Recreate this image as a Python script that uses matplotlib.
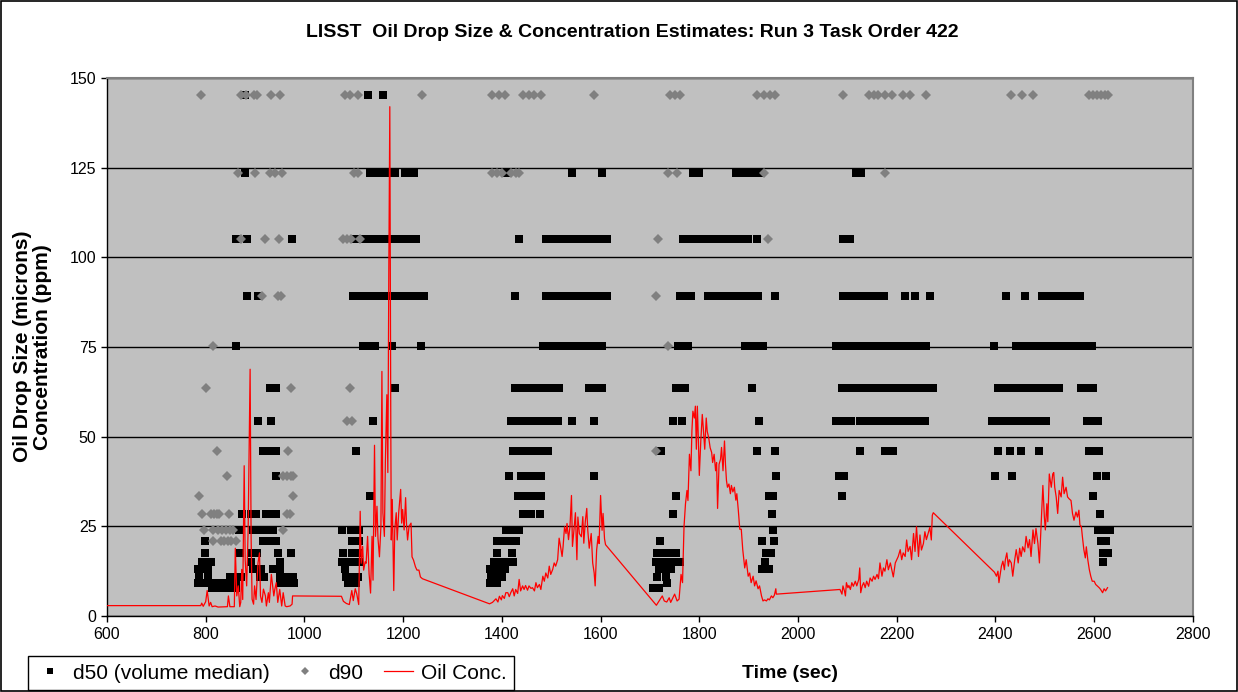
import matplotlib
matplotlib.use("Agg")
import matplotlib.pyplot as plt
from matplotlib.patches import Rectangle

plt.rcParams['font.family'] = ['Liberation Sans', 'DejaVu Sans']

# LISST size classes (microns) used for the d50 / d90 estimates
size_bins = [145.2, 123.5, 105.0, 89.1, 75.3, 63.7, 54.3, 46.1, 39.0, 33.4,
             28.5, 24.0, 20.8, 17.5, 15.1, 13.0, 10.8, 9.3, 7.9]

# d50 sample times (sec) for each size class, same order as size_bins
d50_times = [
    [880, 1128, 1159],
    [880, 1132, 1143, 1150, 1157, 1164, 1171, 1178, 1184, 1204, 1212, 1221, 1410, 1542, 1602,
     1787, 1800, 1875, 1886, 1897, 1908, 1920, 2117, 2127],
    [862, 883, 975, 1103, 1117, 1133, 1140, 1147, 1155, 1162, 1170, 1177, 1190, 1197, 1204,
     1212, 1219, 1226, 1435, 1489, 1496, 1503, 1510, 1518, 1525, 1532, 1540, 1547, 1554, 1561,
     1568, 1574, 1591, 1600, 1608, 1614, 1767, 1774, 1781, 1788, 1795, 1802, 1809, 1816, 1823,
     1830, 1837, 1844, 1851, 1858, 1865, 1872, 1879, 1888, 1899, 1917, 2091, 2100, 2105],
    [883, 906, 1099, 1106, 1113, 1120, 1127, 1134, 1141, 1147, 1153, 1160, 1167, 1174, 1180,
     1187, 1194, 1201, 1208, 1215, 1222, 1229, 1236, 1243, 1427, 1489, 1496, 1503, 1510, 1517,
     1524, 1531, 1538, 1545, 1552, 1559, 1566, 1573, 1580, 1587, 1594, 1601, 1608, 1614, 1760,
     1768, 1776, 1784, 1817, 1824, 1831, 1838, 1845, 1852, 1859, 1866, 1873, 1880, 1887, 1894,
     1901, 1908, 1915, 1919, 1953, 2091, 2098, 2105, 2112, 2119, 2126, 2133, 2140, 2147, 2154,
     2161, 2168, 2175, 2217, 2237, 2267, 2421, 2460, 2495, 2509, 2516, 2523, 2530, 2537, 2544,
     2551, 2558, 2565, 2572],
    [862, 1119, 1126, 1133, 1140, 1143, 1178, 1236, 1483, 1490, 1497, 1504, 1511, 1518, 1525,
     1532, 1539, 1546, 1553, 1560, 1567, 1574, 1581, 1588, 1595, 1602, 1757, 1767, 1777, 1892,
     1900, 1908, 1916, 1924, 1930, 2076, 2083, 2090, 2097, 2104, 2111, 2118, 2125, 2132, 2139,
     2146, 2153, 2160, 2167, 2174, 2181, 2188, 2195, 2207, 2214, 2221, 2228, 2235, 2242, 2247,
     2259, 2398, 2442, 2449, 2456, 2463, 2469, 2479, 2486, 2493, 2500, 2507, 2514, 2521, 2528,
     2535, 2542, 2549, 2556, 2563, 2570, 2577, 2584, 2591, 2596],
    [930, 936, 943, 1183, 1427, 1442, 1450, 1459, 1466, 1473, 1480, 1487, 1494, 1501, 1508,
     1516, 1577, 1587, 1602, 1753, 1762, 1772, 1907, 2089, 2096, 2103, 2110, 2117, 2124, 2131,
     2138, 2145, 2152, 2159, 2166, 2173, 2180, 2187, 2194, 2201, 2208, 2215, 2222, 2229, 2236,
     2243, 2250, 2257, 2264, 2271, 2274, 2405, 2412, 2419, 2426, 2433, 2440, 2447, 2454, 2461,
     2468, 2475, 2482, 2489, 2496, 2503, 2510, 2516, 2529, 2573, 2586, 2598],
    [905, 932, 1138, 1418, 1425, 1432, 1439, 1455, 1462, 1469, 1476, 1483, 1490, 1497, 1504,
     1513, 1542, 1587, 1746, 1765, 1921, 2077, 2084, 2091, 2098, 2105, 2108, 2125, 2132, 2139,
     2146, 2153, 2160, 2167, 2174, 2181, 2188, 2195, 2202, 2209, 2216, 2223, 2230, 2237, 2244,
     2251, 2257, 2392, 2399, 2406, 2413, 2420, 2427, 2434, 2441, 2448, 2455, 2462, 2469, 2476,
     2483, 2490, 2497, 2502, 2586, 2596, 2607],
    [916, 923, 930, 937, 943, 1104, 1422, 1429, 1436, 1443, 1450, 1456, 1472, 1479, 1486,
     1493, 1723, 1917, 1953, 2126, 2176, 2186, 2193, 2405, 2429, 2452, 2488, 2590, 2600, 2610],
    [943, 1415, 1439, 1452, 1459, 1466, 1472, 1479, 1587, 1956, 2082, 2093, 2400, 2433, 2606,
     2623],
    [1133, 1432, 1440, 1448, 1456, 1464, 1472, 1480, 1752, 1942, 1950, 2090, 2598],
    [874, 892, 902, 923, 930, 937, 943, 1442, 1460, 1478, 1747, 1947, 2611],
    [868, 896, 903, 910, 917, 923, 930, 937, 1077, 1095, 1103, 1111, 1408, 1415, 1422, 1429,
     1435, 1950, 2607, 2615, 2623, 2631],
    [799, 916, 923, 930, 943, 1097, 1104, 1111, 1391, 1401, 1408, 1415, 1422, 1428, 1721,
     1926, 1951, 2613, 2623],
    [798, 870, 894, 903, 947, 972, 1079, 1097, 1104, 1111, 1391, 1421, 1715, 1722, 1730, 1738,
     1745, 1753, 1936, 1946, 2617, 2627],
    [793, 801, 810, 892, 950, 1076, 1083, 1090, 1096, 1110, 1385, 1392, 1399, 1407, 1415, 1422,
     1713, 1720, 1727, 1734, 1741, 1748, 1755, 1760, 1934, 2617],
    [784, 791, 798, 805, 896, 913, 937, 944, 950, 1083, 1376, 1384, 1392, 1400, 1407, 1719,
     1727, 1735, 1743, 1926, 1934, 1942],
    [786, 804, 849, 857, 865, 872, 910, 919, 951, 958, 965, 972, 977, 1085, 1092, 1096, 1109,
     1379, 1386, 1394, 1401, 1715, 1733],
    [784, 791, 799, 806, 813, 820, 827, 834, 841, 848, 855, 862, 950, 957, 964, 971, 978, 1089,
     1097, 1105, 1375, 1383, 1391, 1735],
    [812, 819, 826, 833, 840, 847, 854, 861, 1706, 1713, 1719],
]

# d90 sample times (sec) for each size class
d90_times = [
    [791, 872, 882, 897, 903, 933, 950, 1082, 1092, 1109, 1239, 1381, 1395, 1407, 1442, 1455,
     1466, 1479, 1587, 1740, 1750, 1760, 1916, 1932, 1943, 1953, 2091, 2143, 2153, 2163, 2177,
     2190, 2213, 2227, 2260, 2432, 2453, 2475, 2589, 2597, 2605, 2613, 2621, 2628],
    [866, 900, 930, 940, 954, 1100, 1109, 1381, 1391, 1401, 1418, 1428, 1435, 1736, 1755, 1932,
     2176],
    [872, 920, 949, 1079, 1087, 1094, 1113, 1716, 1940],
    [914, 947, 952, 1713],
    [815, 1736],
    [800, 973, 1092],
    [1086, 1096],
    [822, 966, 1713],
    [844, 957, 965, 972, 977],
    [787, 976],
    [792, 810, 816, 822, 827, 848, 964, 971],
    [797, 815, 825, 833, 842, 850, 856, 957],
    [814, 831, 838, 845, 852, 861],
    [], [], [], [], [], [],
]

# oil concentration record (ppm)
conc_time = [
    600, 790, 792, 795, 800, 803, 807, 810, 813, 819, 825, 844, 846, 849, 858, 860, 863, 866,
    869, 871, 873, 875, 878, 880, 883, 886, 890, 892, 894, 897, 899, 902, 906, 909, 911, 914,
    917, 921, 923, 927, 929, 933, 935, 938, 940, 943, 946, 950, 954, 957, 961, 964, 971, 975,
    976, 1075,
    1079, 1085, 1091, 1096, 1099, 1103, 1106, 1110, 1113, 1115, 1118, 1120, 1123, 1125, 1128,
    1131, 1134, 1137, 1139, 1142, 1144, 1147, 1149, 1152, 1155, 1157, 1159, 1162, 1164, 1167,
    1169, 1171, 1173, 1175, 1176, 1178, 1181, 1183, 1186, 1188, 1191, 1195, 1197, 1199, 1202,
    1205, 1207, 1209, 1212, 1216, 1218, 1221, 1225, 1228, 1232, 1235, 1239,
    1375, 1381, 1388, 1392, 1395, 1399, 1401, 1405, 1408, 1412, 1415, 1418, 1422, 1425, 1428,
    1432, 1435, 1438, 1442, 1445, 1448, 1452, 1455, 1459, 1462, 1466, 1469, 1472, 1476, 1479,
    1483, 1486, 1489, 1493, 1496, 1499, 1503, 1506, 1509, 1513, 1516, 1519, 1522, 1524, 1527,
    1530, 1532, 1535, 1538, 1541, 1543, 1546, 1549, 1552, 1554, 1557, 1561, 1564, 1566, 1569,
    1572, 1574, 1577, 1581, 1584, 1587, 1589, 1592, 1595, 1597, 1600, 1603, 1605, 1608, 1610,
    1713, 1720, 1725, 1729, 1734, 1739, 1742, 1750, 1755, 1759, 1763, 1766, 1769, 1772, 1775,
    1777, 1780, 1783, 1785, 1787, 1790, 1792, 1794, 1796, 1798, 1800, 1803, 1806, 1808, 1811,
    1814, 1816, 1819, 1822, 1825, 1827, 1830, 1833, 1835, 1837, 1840, 1843, 1845, 1848, 1851,
    1853, 1855, 1857, 1860, 1863, 1865, 1868, 1871, 1874, 1876, 1879, 1882, 1885, 1888, 1892,
    1895, 1899, 1902, 1905, 1909, 1912, 1915, 1919, 1922, 1926, 1929, 1932, 1936, 1939, 1942,
    1946, 1949, 1952, 1955, 1956,
    2085, 2089, 2091, 2094, 2096, 2098, 2101, 2103, 2106, 2109, 2112, 2116, 2119, 2123, 2125,
    2127, 2130, 2133, 2136, 2139, 2143, 2146, 2150, 2153, 2156, 2160, 2163, 2166, 2170, 2173,
    2176, 2180, 2183, 2187, 2190, 2193, 2197, 2200, 2203, 2207, 2210, 2213, 2217, 2220, 2223,
    2227, 2230, 2234, 2237, 2240, 2244, 2247, 2250, 2254, 2257, 2260, 2264, 2267, 2270, 2272,
    2274,
    2398, 2402, 2405, 2407, 2410, 2412, 2415, 2418, 2420, 2423, 2426, 2428, 2432, 2435, 2439,
    2442, 2446, 2449, 2452, 2455, 2459, 2462, 2466, 2469, 2472, 2476, 2479, 2482, 2486, 2489,
    2493, 2496, 2499, 2501, 2504, 2506, 2509, 2513, 2516, 2518, 2520, 2523, 2526, 2529, 2533,
    2536, 2539, 2543, 2546, 2549, 2553, 2556, 2559, 2563, 2566, 2569, 2571, 2574, 2576, 2579,
    2582, 2584, 2587, 2590, 2593, 2596, 2600, 2603, 2606, 2610, 2613, 2617, 2620, 2623, 2627,
]
conc_ppm = [
    2.9, 2.9, 3.6, 2.7, 4.0, 7.1, 2.8, 3.8, 2.6, 2.8, 2.5, 2.6, 5.6, 2.6, 2.6, 18.9, 5.6, 8.4,
    2.6, 3.8, 13.0, 4.6, 41.9, 15.7, 8.4, 24.0, 68.8, 22.0, 4.7, 3.3, 8.4, 4.6, 14.8, 17.6, 5.6,
    3.8, 7.5, 5.6, 2.8, 6.5, 3.8, 11.6, 9.3, 5.6, 7.4, 9.3, 3.8, 7.4, 2.8, 6.5, 2.8, 2.6, 2.8,
    3.3, 5.6, 5.5,
    4.1, 3.5, 3.2, 7.1, 4.3, 7.6, 6.2, 3.2, 29.2, 14.7, 19.4, 12.8, 15.1, 14.7, 22.2, 11.8, 6.4,
    22.2, 10.0, 47.6, 22.2, 30.6, 21.7, 16.5, 25.0, 68.2, 28.8, 22.2, 42.9, 61.7, 40.0, 96.4,
    142.0, 52.3, 21.2, 32.5, 7.1, 24.0, 28.8, 21.2, 28.8, 35.3, 25.9, 29.7, 24.0, 33.0, 25.0,
    21.2, 25.0, 25.9, 16.5, 15.6, 13.7, 12.8, 12.8, 10.9, 10.4,
    3.4, 3.8, 4.8, 3.9, 5.5, 4.5, 5.7, 4.9, 6.5, 6.5, 5.4, 6.5, 7.6, 5.6, 7.4, 6.3, 10.2, 7.0,
    8.4, 7.4, 8.5, 7.2, 8.4, 7.7, 7.9, 7.0, 9.3, 7.9, 8.8, 7.4, 11.1, 9.7, 12.0, 10.6, 13.9,
    11.6, 13.0, 14.8, 13.9, 15.7, 21.7, 19.3, 16.6, 19.3, 24.9, 23.0, 25.8, 21.3, 25.0, 33.6,
    19.4, 23.9, 28.8, 15.7, 27.6, 23.0, 22.1, 27.7, 20.3, 26.3, 30.0, 24.0, 18.9, 23.0, 14.8,
    12.0, 8.4, 18.4, 22.2, 20.2, 33.6, 23.9, 28.6, 21.5, 19.9,
    3.0, 4.5, 5.6, 4.2, 3.9, 5.1, 3.8, 6.1, 4.2, 4.7, 11.6, 9.3, 24.9, 31.3, 35.0, 32.2, 45.1,
    40.5, 51.6, 57.1, 55.2, 58.5, 46.5, 58.5, 49.7, 39.2, 48.8, 56.2, 52.5, 46.5, 55.2, 51.5,
    49.7, 46.9, 45.6, 42.8, 45.1, 40.5, 42.8, 30.0, 42.3, 43.7, 47.0, 40.5, 48.8, 42.3, 37.8,
    35.9, 36.8, 34.1, 36.4, 34.6, 35.9, 32.3, 34.1, 29.5, 24.2, 24.2, 18.5, 13.4, 15.7, 11.1,
    12.0, 9.3, 11.1, 8.4, 9.8, 7.6, 8.4, 5.6, 4.2, 4.5, 4.2, 4.8, 4.5, 5.6, 5.1, 5.8, 7.6, 6.1,
    7.4, 6.1, 8.4, 7.0, 5.6, 9.3, 7.9, 8.5, 7.4, 9.3, 8.3, 9.7, 8.4, 10.2, 13.4, 6.5, 8.4, 9.3,
    7.9, 9.7, 8.3, 10.6, 9.7, 11.1, 10.2, 11.6, 10.4, 14.8, 11.1, 13.4, 12.5, 15.7, 12.9, 14.8,
    12.9, 10.9, 14.8, 15.7, 16.6, 18.5, 15.7, 17.6, 16.6, 21.2, 18.0, 19.4, 15.7, 23.0, 18.0,
    24.9, 16.6, 22.6, 18.4, 20.2, 23.5, 21.3, 23.2, 24.7, 21.2, 28.1, 28.8,
    12.2, 11.1, 12.5, 9.3, 12.0, 13.9, 15.3, 12.9, 15.7, 17.6, 13.9, 15.7, 14.8, 11.1, 15.7,
    18.5, 14.8, 18.9, 16.6, 19.3, 17.9, 22.2, 19.0, 21.3, 16.6, 24.0, 20.2, 24.4, 20.2, 14.8,
    27.2, 36.4, 27.6, 24.0, 31.3, 26.3, 39.6, 35.9, 39.6, 40.0, 35.9, 33.2, 28.6, 35.0, 33.2,
    38.7, 34.1, 35.9, 33.2, 32.7, 32.2, 28.6, 26.7, 29.0, 27.6, 29.5, 25.4, 24.9, 22.2, 18.5,
    16.2, 19.3, 15.7, 13.0, 11.1, 9.7, 9.7, 8.8, 8.4, 7.9, 7.4, 6.5, 7.6, 7.0, 7.9,
]

y_ticks = [0, 25, 50, 75, 100, 125, 150]
x_ticks = [600, 800, 1000, 1200, 1400, 1600, 1800, 2000, 2200, 2400, 2600, 2800]


def flatten(times_per_bin):
    xs, ys = [], []
    for size, times in zip(size_bins, times_per_bin):
        xs.extend(times)
        ys.extend([size] * len(times))
    return xs, ys


d50_x, d50_y = flatten(d50_times)
d90_x, d90_y = flatten(d90_times)

fig = plt.figure(figsize=(12.38, 6.92), dpi=100)
ax = fig.add_axes([0.0864, 0.1098, 0.8772, 0.7775])
ax.set_facecolor('#C0C0C0')

ax.plot(d50_x, d50_y, linestyle='None', marker='s', markersize=5.3, color='black',
        markeredgewidth=0, label='d50 (volume median)', zorder=3)
ax.plot(d90_x, d90_y, linestyle='None', marker='D', markersize=4.6, color='#808080',
        markeredgewidth=0, label='d90', zorder=4)
ax.plot(conc_time, conc_ppm, color='#FF0000', linewidth=0.9, label='Oil Conc.', zorder=5)

ax.set_xlim(600, 2800)
ax.set_ylim(0, 150)
ax.set_xticks(x_ticks)
ax.set_yticks(y_ticks)
ax.tick_params(direction='out', length=4, width=1, labelsize=11.5, colors='black')
ax.tick_params(axis='x', pad=4)
ax.yaxis.grid(True, color='black', linewidth=1)
ax.set_axisbelow(True)
for side in ('left', 'bottom'):
    ax.spines[side].set_color('black')
    ax.spines[side].set_linewidth(1)
for side in ('top', 'right'):
    ax.spines[side].set_color('#808080')
    ax.spines[side].set_linewidth(1.5)

fig.text(0.511, 0.953, 'LISST  Oil Drop Size & Concentration Estimates: Run 3 Task Order 422',
         ha='center', va='center', fontsize=14, fontweight='bold')
fig.text(0.026, 0.499, 'Oil Drop Size (microns)\nConcentration (ppm)', rotation=90,
         ha='center', va='center', fontsize=15, fontweight='bold', multialignment='center',
         linespacing=1.05)
fig.text(0.638, 0.027, 'Time (sec)', ha='center', va='center', fontsize=14,
         fontweight='bold')

leg = fig.legend(loc='lower left', bbox_to_anchor=(0.0226, 0.003), ncol=3, fontsize=15,
                 frameon=True, fancybox=False, edgecolor='black', framealpha=1,
                 handlelength=1.4, handletextpad=0.4, columnspacing=1.0,
                 borderpad=0.35, borderaxespad=0, markerscale=0.9)
leg.get_frame().set_linewidth(1)

fig.patches.append(Rectangle((0.001, 0.002), 0.998, 0.996, transform=fig.transFigure,
                             fill=False, edgecolor='black', linewidth=1.2))

fig.savefig('out.png', dpi=100)
